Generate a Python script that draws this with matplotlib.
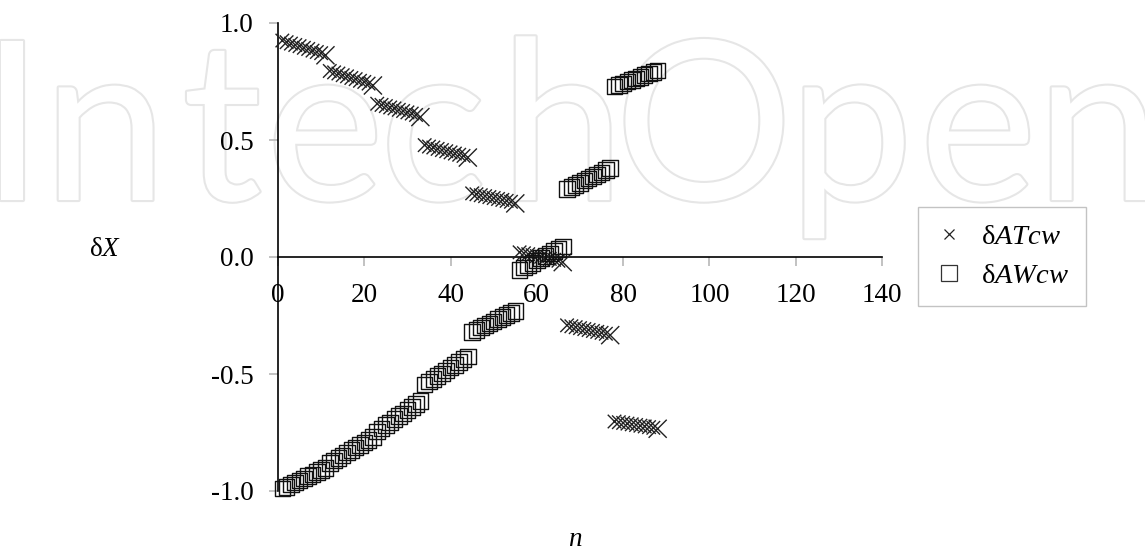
import matplotlib
matplotlib.use("Agg")
import matplotlib.pyplot as plt
import matplotlib.patheffects as pe
from matplotlib.lines import Line2D
import numpy as np

# index of each sample
n = np.arange(1, 89)

# deviation of ATcw
at_cw = [
    0.925, 0.918, 0.912, 0.906, 0.901, 0.894, 0.889, 0.882, 0.876, 0.871, 0.862,
    0.795, 0.789, 0.784, 0.777, 0.772, 0.765, 0.760, 0.753, 0.748, 0.741, 0.733,
    0.655, 0.650, 0.645, 0.639, 0.635, 0.629, 0.624, 0.618, 0.613, 0.607, 0.598,
    0.478, 0.472, 0.468, 0.462, 0.457, 0.452, 0.447, 0.442, 0.437, 0.432, 0.425,
    0.272, 0.268, 0.264, 0.260, 0.256, 0.252, 0.248, 0.244, 0.240, 0.236, 0.229,
    0.020, 0.016, 0.012, 0.008, 0.004, 0.001, -0.004, -0.008, -0.012, -0.016, -0.022,
    -0.292, -0.296, -0.300, -0.304, -0.308, -0.312, -0.316, -0.320, -0.324, -0.328, -0.334,
    -0.703, -0.706, -0.709, -0.712, -0.715, -0.718, -0.721, -0.724, -0.727, -0.730, -0.734,
]

# deviation of AWcw
aw_cw = [
    -0.990, -0.982, -0.973, -0.964, -0.956, -0.946, -0.937, -0.929, -0.919, -0.910, -0.901,
    -0.880, -0.869, -0.858, -0.848, -0.836, -0.825, -0.815, -0.803, -0.792, -0.781, -0.770,
    -0.745, -0.732, -0.719, -0.707, -0.693, -0.680, -0.668, -0.654, -0.641, -0.628, -0.615,
    -0.545, -0.533, -0.521, -0.509, -0.497, -0.486, -0.473, -0.461, -0.449, -0.437, -0.425,
    -0.320, -0.311, -0.302, -0.293, -0.285, -0.275, -0.266, -0.257, -0.248, -0.239, -0.230,
    -0.055, -0.045, -0.035, -0.025, -0.015, -0.005, 0.005, 0.015, 0.025, 0.035, 0.045,
    0.290, 0.299, 0.308, 0.317, 0.326, 0.335, 0.344, 0.353, 0.362, 0.371, 0.380,
    0.728, 0.735, 0.742, 0.749, 0.756, 0.763, 0.770, 0.777, 0.784, 0.791, 0.798,
]

x_ticks = [0, 20, 40, 60, 80, 100, 120, 140]
y_ticks = [-1.0, -0.5, 0.0, 0.5, 1.0]
series_labels = ["δ$ATcw$", "δ$AWcw$"]

plt.rcParams["font.family"] = ["Liberation Serif", "DejaVu Serif"]
plt.rcParams["mathtext.fontset"] = "custom"
plt.rcParams["mathtext.rm"] = "Liberation Serif"
plt.rcParams["mathtext.it"] = "Liberation Serif:italic"
plt.rcParams["axes.unicode_minus"] = False

W, H = 1145, 551
fig = plt.figure(figsize=(W / 100, H / 100), dpi=100)
fig.patch.set_facecolor("white")

# publisher mark in the background, set letter by letter
mark_letters = list("IntechOpen")
mark_x = [12, 105, 222, 325, 433, 562, 704, 851, 978, 1098]
for ch, xc in zip(mark_letters, mark_x):
    fig.text(xc / W, 1 - 200 / H, ch, ha="center", va="baseline",
             fontsize=160, family=["Lato", "DejaVu Sans"], color="white",
             zorder=-5,
             path_effects=[pe.withStroke(linewidth=3, foreground="#e6e6e6")])

left, right, top, bottom = 278, 882, 23, 491
ax = fig.add_axes([left / W, 1 - bottom / H, (right - left) / W, (bottom - top) / H])
ax.patch.set_alpha(0)

at = np.asarray(at_cw)
# the closing point of each run is drawn with a larger cross
run_end = np.r_[np.abs(np.diff(at)) > 0.03, True]
sizes = np.where(run_end, 170, 95)

ax.scatter(n, at, marker="x", s=sizes, color="#222222", linewidths=1.0,
           clip_on=False, zorder=3)
ax.scatter(n, aw_cw, marker="s", s=125, facecolors="none", edgecolors="#111111",
           linewidths=1.0, clip_on=False, zorder=3)

ax.set_xlim(0, 140)
ax.set_ylim(-1.0, 1.0)
ax.spines["top"].set_visible(False)
ax.spines["right"].set_visible(False)
ax.spines["bottom"].set_position(("data", 0))
ax.spines["left"].set_color("black")
ax.spines["bottom"].set_color("black")
ax.spines["left"].set_linewidth(1.2)
ax.spines["bottom"].set_linewidth(1.2)

ax.set_xticks(x_ticks)
ax.set_xticklabels([str(t) for t in x_ticks])
ax.set_yticks(y_ticks)
ax.set_yticklabels([f"{t:.1f}" for t in y_ticks])
ax.tick_params(axis="x", direction="out", length=6.5, width=1.2, color="#b8b8b8",
               labelsize=19.5, pad=12)
ax.tick_params(axis="y", direction="out", length=6.5, width=1.2, color="#b8b8b8",
               labelsize=19.5, pad=11)

fig.text(105 / W, 1 - 250 / H, "δ$X$", ha="center", va="center", fontsize=19.5)
fig.text(575 / W, 1 - 540 / H, "$n$", ha="center", va="center", fontsize=19.5)

handles = [
    Line2D([], [], linestyle="none", marker="x", markersize=7, color="#222222",
           markeredgewidth=0.9),
    Line2D([], [], linestyle="none", marker="s", markersize=11, markerfacecolor="none",
           markeredgecolor="#333333", markeredgewidth=0.9),
]
leg = fig.legend(handles, series_labels, loc="lower left",
                 bbox_to_anchor=(918 / W, 1 - 306 / H), fontsize=20.5,
                 frameon=True, fancybox=False, edgecolor="#b5b5b5",
                 handlelength=1.0, handletextpad=0.6, borderpad=0.6,
                 labelspacing=0.45, borderaxespad=0)
leg.get_frame().set_linewidth(1.0)

fig.savefig("out.png", dpi=100, facecolor="white")
